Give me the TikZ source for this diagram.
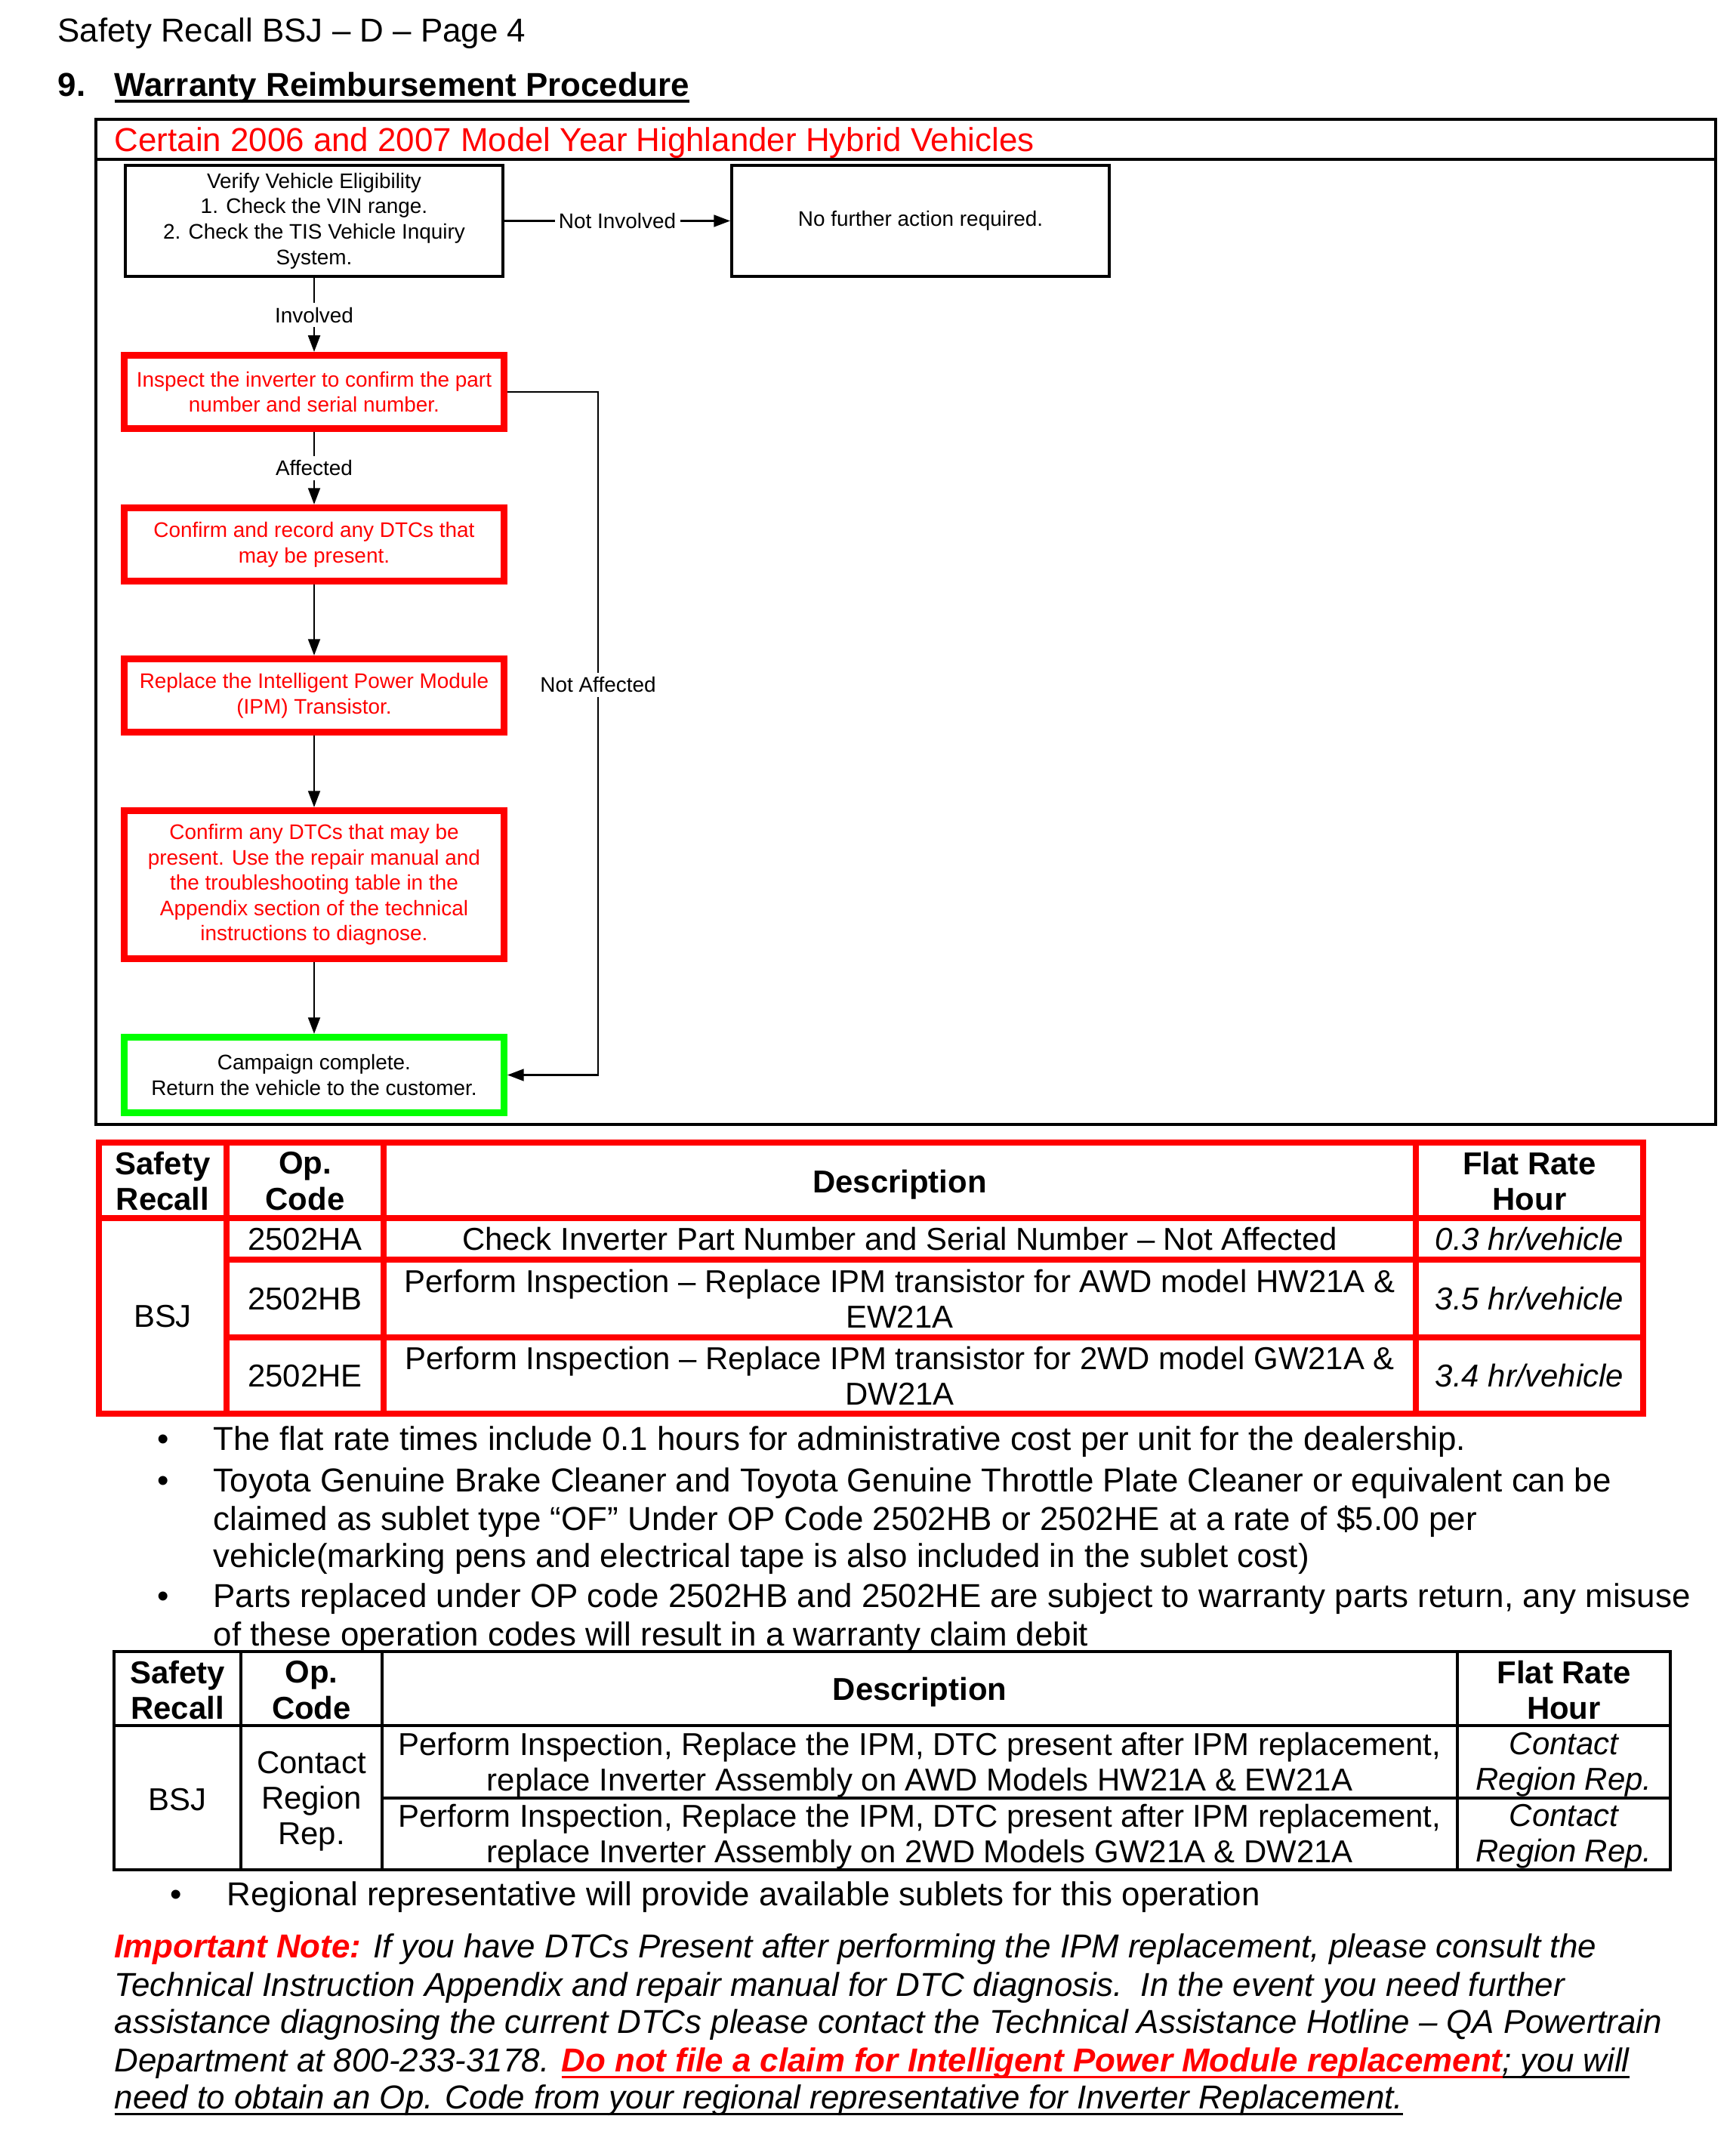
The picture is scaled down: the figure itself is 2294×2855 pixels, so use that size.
\documentclass[tikz,border=0pt]{standalone}
\usepackage{fontspec}
\setmainfont{Liberation Sans}
\usepackage{xcolor}
\usepackage{tikz}
\usetikzlibrary{arrows.meta, positioning}
\newcommand\pagesize{\fontsize{12.15}{13.3}\selectfont}
\newcommand\cellsize{\fontsize{11.6}{13.1}\selectfont}
\newcommand\flowsize{\fontsize{7.73}{9.3}\selectfont}
\newsavebox\ulbox
\newcommand\ulbar[2][1pt]{\sbox\ulbox{#2}\rlap{\rule[-2.6pt]{\wd\ulbox}{#1}}\usebox\ulbox}
\tikzset{
  pagetxt/.style   = {font=\pagesize, inner sep=0pt},          % running text
  cell/.style      = {font=\cellsize, inner sep=0pt, align=center},
  headcell/.style  = {cell, font=\cellsize\bfseries},
  ratecell/.style  = {cell, font=\cellsize\itshape},
  flowtxt/.style   = {font=\flowsize, align=center, inner sep=0pt},
  plainbox/.style  = {flowtxt, draw, line width=1.2pt,
                      minimum width=138.4pt, minimum height=40.7pt},
  redbox/.style    = {flowtxt, draw=red, text=red, line width=2.5pt,
                      minimum width=139.3pt, minimum height=26.9pt},
  greenbox/.style  = {flowtxt, draw=green, line width=2.5pt,
                      minimum width=139.3pt, minimum height=27.7pt},
  edgelabel/.style = {flowtxt, fill=white, inner sep=1.5pt},
  arrow/.style     = {-{Triangle[length=6pt,width=4.4pt]}, line width=0.6pt},
  redrule/.style   = {draw=red, line width=2pt},
  blackrule/.style = {line width=1pt}
}
\begin{document}
\begin{tikzpicture}[x=0.2769pt, y=-0.2769pt]
  \useasboundingbox[fill=white] (0,0) rectangle (2294,2855);
  % page head
  \node[pagetxt, anchor=base west] (pagehead) at (76,55) {Safety Recall BSJ – D – Page 4};
  \node[pagetxt, anchor=base west, font=\pagesize\bfseries] (secnum) at (76,127) {9.};
  \node[pagetxt, anchor=base west, font=\pagesize\bfseries] (sectitle) at (151,127)
    {\ulbar[1.3pt]{Warranty Reimbursement Procedure}};
  % flow chart frame
  \draw[line width=1pt] (127,158) rectangle (2272,1489);
  \draw[line width=1pt] (127,211) -- (2272,211);
  \node[pagetxt, anchor=base west, text=red] (charttitle) at (151,200)
    {Certain 2006 and 2007 Model Year Highlander Hybrid Vehicles};
  \node[plainbox] (verify) at (416,292.5) {Verify Vehicle Eligibility\\1. Check the VIN range.\\2. Check the TIS Vehicle Inquiry\\System.};
  \node[plainbox] (nofurther) at (1219,292.5) {No further action required.};
  \node[redbox] (inspect) at (416,519) {Inspect the inverter to confirm the part\\number and serial number.};
  \node[redbox] (record) at (416,721) {Confirm and record any DTCs that\\may be present.};
  \node[redbox] (replace) at (416,921) {Replace the Intelligent Power Module\\(IPM) Transistor.};
  \node[redbox, minimum height=54.3pt] (diagnose) at (416,1171.5) {Confirm any DTCs that may be\\present. Use the repair manual and\\the troubleshooting table in the\\Appendix section of the technical\\instructions to diagnose.};
  \node[greenbox] (done) at (416,1423.5) {Campaign complete.\\Return the vehicle to the customer.};
  \draw[arrow] (verify) -- node[edgelabel] {Not Involved} (nofurther);
  \draw[arrow] (verify) -- node[edgelabel] {Involved} (inspect);
  \draw[arrow] (inspect) -- node[edgelabel] {Affected} (record);
  \draw[arrow] (record) -- (replace);
  \draw[arrow] (replace) -- (diagnose);
  \draw[arrow] (diagnose) -- (done);
  \node[edgelabel] (notaff) at (792,907) {Not Affected};
  \draw[line width=0.6pt] (inspect.east) -| (notaff.north);
  \draw[arrow] (notaff.south) |- (done.east);
  % labour table
  \draw[redrule] (131,1513) rectangle (2176,1872);
  \foreach \x in {300,508,1875} \draw[redrule] (\x,1513) -- (\x,1872);
  \draw[redrule] (131,1613) -- (2176,1613);
  \foreach \y in {1668,1771} \draw[redrule] (300,\y) -- (2176,\y);
  \node[headcell] (ahsafety) at (215.5,1564) {Safety\\Recall};
  \node[headcell] (ahop) at (404,1564) {Op.\\Code};
  \node[headcell] (ahdesc) at (1191.5,1569) {Description};
  \node[headcell] (ahrate) at (2025.5,1564) {Flat Rate\\Hour};
  \node[cell] (absj) at (215.5,1743) {BSJ};
  \node[cell] (aopa) at (404,1641) {2502HA};
  \node[cell] (adesca) at (1191.5,1641) {Check Inverter Part Number and Serial Number – Not Affected};
  \node[ratecell] (aratea) at (2025.5,1641) {0.3 hr/vehicle};
  \node[cell] (aopb) at (404,1720) {2502HB};
  \node[cell] (adescb) at (1191.5,1720) {Perform Inspection – Replace IPM transistor for AWD model HW21A \&\\EW21A};
  \node[ratecell] (arateb) at (2025.5,1720) {3.5 hr/vehicle};
  \node[cell] (aope) at (404,1822) {2502HE};
  \node[cell] (adesce) at (1191.5,1822) {Perform Inspection – Replace IPM transistor for 2WD model GW21A \&\\DW21A};
  \node[ratecell] (aratee) at (2025.5,1822) {3.4 hr/vehicle};
  % notes
  \node[pagetxt, anchor=base] (dota) at (216,1920) {•};
  \node[pagetxt, anchor=base west] (notea) at (282,1920) {The flat rate times include 0.1 hours for administrative cost per unit for the dealership.};
  \node[pagetxt, anchor=base] (dotb) at (216,1975) {•};
  \node[pagetxt, anchor=base west] (noteb1) at (282,1975) {Toyota Genuine Brake Cleaner and Toyota Genuine Throttle Plate Cleaner or equivalent can be};
  \node[pagetxt, anchor=base west] (noteb2) at (282,2026) {claimed as sublet type “OF” Under OP Code 2502HB or 2502HE at a rate of \$5.00 per};
  \node[pagetxt, anchor=base west] (noteb3) at (282,2075) {vehicle(marking pens and electrical tape is also included in the sublet cost)};
  \node[pagetxt, anchor=base] (dotc) at (216,2128) {•};
  \node[pagetxt, anchor=base west] (notec1) at (282,2128) {Parts replaced under OP code 2502HB and 2502HE are subject to warranty parts return, any misuse};
  \node[pagetxt, anchor=base west] (notec2) at (282,2179) {of these operation codes will result in a warranty claim debit};
  % inverter table
  \draw[blackrule] (151,2187) rectangle (2212,2476);
  \foreach \x in {319,506,1930} \draw[blackrule] (\x,2187) -- (\x,2476);
  \draw[blackrule] (151,2285) -- (2212,2285);
  \draw[blackrule] (506,2381) -- (2212,2381);
  \node[headcell] (bhsafety) at (235,2238) {Safety\\Recall};
  \node[headcell] (bhop) at (412.5,2238) {Op.\\Code};
  \node[headcell] (bhdesc) at (1218,2241) {Description};
  \node[headcell] (bhrate) at (2071,2238) {Flat Rate\\Hour};
  \node[cell] (bbsj) at (235,2383) {BSJ};
  \node[cell] (bop) at (412.5,2385) {Contact\\Region\\Rep.};
  \node[cell] (bdesca) at (1218,2337) {Perform Inspection, Replace the IPM, DTC present after IPM replacement,\\replace Inverter Assembly on AWD Models HW21A \& EW21A};
  \node[ratecell] (bratea) at (2071,2337) {Contact\\Region Rep.};
  \node[cell] (bdescb) at (1218,2432) {Perform Inspection, Replace the IPM, DTC present after IPM replacement,\\replace Inverter Assembly on 2WD Models GW21A \& DW21A};
  \node[ratecell] (brateb) at (2071,2432) {Contact\\Region Rep.};
  \node[pagetxt, anchor=base] (dotd) at (233,2523) {•};
  \node[pagetxt, anchor=base west] (noted) at (300,2523) {Regional representative will provide available sublets for this operation};
  % important note
  \node[pagetxt, anchor=base west, font=\pagesize\itshape] (impa) at (151,2592)
    {\textcolor{red}{\bfseries Important Note:} If you have DTCs Present after performing the IPM replacement, please consult the};
  \node[pagetxt, anchor=base west, font=\pagesize\itshape] (impb) at (151,2643)
    {Technical Instruction Appendix and repair manual for DTC diagnosis.\ \ In the event you need further};
  \node[pagetxt, anchor=base west, font=\pagesize\itshape] (impc) at (151,2692)
    {assistance diagnosing the current DTCs please contact the Technical Assistance Hotline – QA Powertrain};
  \node[pagetxt, anchor=base west, font=\pagesize\itshape] (impd) at (151,2743)
    {Department at 800-233-3178. \textcolor{red}{\ulbar{\bfseries Do not file a claim for Intelligent Power Module replacement}}\ulbar{; you will}};
  \node[pagetxt, anchor=base west, font=\pagesize\itshape] (impe) at (151,2792)
    {\ulbar{need to obtain an Op. Code from your regional representative for Inverter Replacement.}};
\end{tikzpicture}
\end{document}
